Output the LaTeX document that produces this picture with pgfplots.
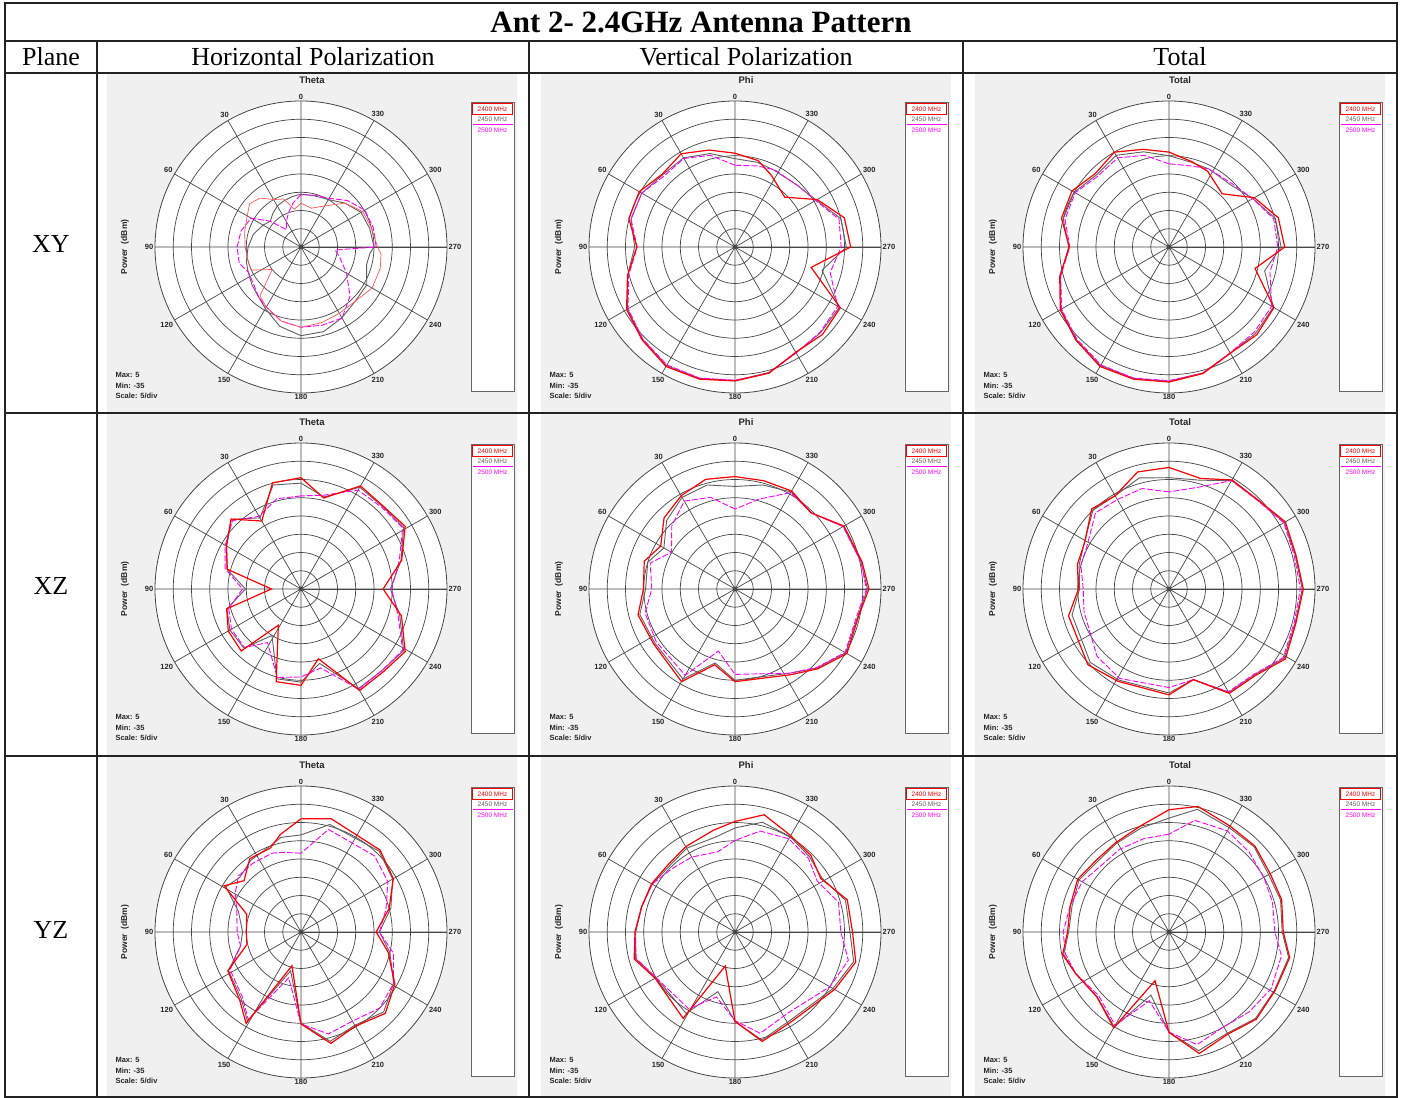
\documentclass[border=0pt]{standalone}
\usepackage{fontspec}
\setmainfont{Liberation Serif}
\setsansfont{Liberation Sans}
\usepackage{pgfplots}
\pgfplotsset{compat=1.18}
\usepackage{pgfplotstable}
\usepgfplotslibrary{polar}

\definecolor{gridc}{RGB}{70,70,70}
\definecolor{panelgray}{RGB}{240,240,240}
\definecolor{tr}{RGB}{255,0,0}
\definecolor{tg}{RGB}{95,95,95}
\definecolor{tm}{RGB}{255,0,255}
\definecolor{framec}{RGB}{35,35,35}

\newcommand\legfont{\sffamily\fontsize{6.5}{7}\selectfont}
\newcommand\smallbold{\sffamily\bfseries\fontsize{7.5}{9}\selectfont}

% angle a (deg, 0 at top, counter-clockwise), power in dBm for 2400 (r), 2450 (g), 2500 (m) MHz
\pgfplotstableread{
a r g m
0 -23 -20.5 -20.7
10 -24.5 -21 -22.7
20 -21 -21.5 -25
30 -20 -22 -27
40 -17.5 -23 -28.8
50 -16.6 -24 -24
60 -18 -23 -19.2
75 -19 -21.5 -18
90 -19.7 -20.5 -17.5
105 -20 -19.5 -17.5
115 -20 -19 -19
128 -25 -18 -18.5
140 -17.5 -17 -17
150 -16 -15.5 -16
165 -14 -12.5 -14
180 -13 -10.7 -13
195 -13.5 -11 -12.8
210 -14 -12.6 -12.5
225 -14 -14 -16
240 -12.5 -14.2 -20.6
255 -12.5 -16.4 -24
265 -13 -16 -25.6
270 -14 -15 -14.4
285 -15 -15.5 -14.5
300 -15.5 -16 -14.8
315 -18 -18 -17
330 -22 -20 -19.6
345 -24 -20.5 -20.3
360 -23 -20.5 -20.7
}\tXYh

\pgfplotstableread{
a r g m
0 -9.3 -10.8 -12.6
15 -7.5 -8.5 -9
30 -5.5 -6.8 -7
45 -6.8 -7 -7.5
60 -4.7 -5.5 -5.5
75 -4.9 -5.5 -5.5
90 -8.1 -7.5 -8.2
105 -4.5 -4.5 -4.8
120 -0.7 -1 -1.2
135 1 0.8 0.7
150 2.8 2.5 2.3
165 2.5 2.3 2.2
180 1.7 1.6 1.5
195 0.8 0.6 0.8
210 -1.7 -1.5 -1.5
225 -1.1 -1.8 -2
240 -1.7 -2 -2.5
255 -13.4 -10.3 -8
270 -3.3 -4.5 -5.9
285 -4 -5 -5.5
300 -9 -9.3 -9.5
315 -15.7 -11 -11
333 -13 -11.4 -11.2
345 -10.5 -11 -12
360 -9.3 -10.8 -12.6
}\tXYv

\pgfplotstableread{
a r g m
0 -9 -10 -12.2
15 -7.3 -8 -9
30 -5 -6 -6.8
45 -6.5 -7 -7.5
60 -4.3 -5 -5.3
75 -4.5 -5 -5.5
90 -7.7 -7.5 -7.8
105 -4 -4.2 -4.3
120 -0.6 -0.8 -1
135 1.1 0.9 0.7
150 2.8 2.5 2.3
165 2.5 2.3 2.2
180 2 1.8 1.6
195 0.9 0.7 0.8
210 -1.4 -1.4 -1.5
225 -1 -1.5 -2
240 -1.8 -2 -2.5
256 -10.7 -8 -6.5
270 -3.3 -4.3 -5.2
285 -4 -4.8 -5.3
300 -8 -8.5 -8.5
315 -14.4 -11 -10.5
333 -11.7 -11 -11
345 -10.8 -11 -12
360 -9 -10 -12.2
}\tXYt

\pgfplotstableread{
a r g m
0 -4.5 -6 -9.5
15 -4.9 -5.5 -9.4
30 -13.5 -12.5 -12
45 -7.9 -8 -8.5
60 -11.4 -11.5 -11
75 -14.1 -14 -13.5
90 -26.9 -19.8 -19
105 -13.9 -14 -14.5
120 -12 -12.5 -13
136 -11.4 -12.5 -12.7
148 -23.3 -20 -17.7
165 -8.7 -9.5 -9.9
180 -8.6 -9.5 -10.9
194 -15.3 -14 -12.7
210 -2.9 -3.5 -3.3
225 -3 -3.5 -3.5
239 -1.7 -2.2 -2.5
255 -6.5 -7 -7.5
270 -12.5 -10.5 -10.2
286 -6.3 -6.5 -7
301 -1.7 -2.2 -2.5
315 -3 -3.2 -3.5
330 -2.4 -2.8 -3.7
346 -9.3 -9 -8.5
360 -4.5 -6 -9.5
}\tXZh

\pgfplotstableread{
a r g m
0 -4.2 -6.9 -13.1
15 -3.9 -5.5 -9
30 -5.5 -6 -7.2
45 -7.5 -8.5 -10.5
60 -11.5 -12.5 -14.9
73 -9 -10 -10.7
90 -9.9 -10.5 -12.2
105 -7.5 -8 -9.5
124 -8.1 -8.5 -9
150 -5.7 -6.5 -7.7
165 -13.5 -14 -17.4
180 -9.6 -10 -11.6
213 -7 -7.5 -7.5
226 -3.5 -3.8 -4
240 0.4 0 -0.2
258 -0.3 -0.5 -0.8
270 1.7 1.3 1
282 0.6 0.3 0.3
300 -0.5 -0.7 -0.8
315 -5.5 -5.5 -5.5
330 -4 -4.3 -4.5
345 -4.3 -5.5 -9.5
360 -4.2 -6.9 -13.1
}\tXZv

\pgfplotstableread{
a r g m
0 -1.7 -4.5 -8.4
15 -1.8 -3.5 -6.5
30 -5.5 -5.5 -6.7
44 -4.5 -5 -6
61 -8.6 -8.5 -9.5
75 -9 -9.5 -10
90 -10.2 -10.5 -11.5
105 -6.5 -7.5 -10.9
133 -4.6 -5.5 -8
151 -6.1 -6.5 -7
180 -6 -6.5 -8
195 -9.3 -9.3 -9.3
210 -2 -2.3 -2.5
225 -1.5 -1.8 -2
239 2.2 1.8 1.5
255 1 0.8 0.5
270 1.8 1.5 1
285 1 0.8 0.5
300 1.8 1.5 1.3
315 -0.5 -0.6 -0.7
330 -0.5 -0.7 -0.7
344 -3.5 -4 -6
360 -1.7 -4.5 -8.4
}\tXZt

\pgfplotstableread{
a r g m
0 -4 -8.4 -13.4
12 -7.7 -8.5 -12.7
20 -10.5 -10 -12
35 -10.5 -11 -12
48 -14 -12.5 -12
59 -10.4 -11 -14
72 -19.4 -17 -16.5
90 -20 -19 -17.5
103 -19.8 -18 -18
118 -12.3 -12.5 -13
138 -9.9 -10.5 -11
149 -5.8 -6.5 -7
165 -25.4 -24 -22
180 -9.8 -10 -9.8
195 -3.4 -4 -6.1
210 -5.2 -5.5 -6.8
226 -2.9 -3.5 -5
241 -5.6 -6 -6
257 -10.5 -10 -9
270 -14.4 -13.5 -13.5
285 -10 -9.5 -10.9
300 -5.8 -6 -7.5
316 -3.8 -4.2 -6
345 -2.9 -4.5 -5.9
360 -4 -8.4 -13.4
}\tYZh

\pgfplotstableread{
a r g m
0 -4.7 -6.5 -9.9
12 -6.5 -8.5 -12.5
30 -8 -8.5 -11.3
45 -9 -9.5 -10.5
60 -8.6 -8.8 -8.8
75 -8.5 -8.5 -8.5
90 -7.6 -7.8 -7.6
105 -6.4 -6.8 -7
120 -9.7 -10 -10
149 -7.4 -9 -10.4
164 -25.3 -18 -16.5
180 -10.5 -10.5 -10.7
194 -4.1 -4.5 -6.4
213 -6 -6.5 -8.5
240 -3.5 -4 -5
256 -0.9 -1.5 -3
270 -2.8 -3.5 -6
286 -3 -3.5 -5.5
302 -7.3 -7 -8.5
315 -5.5 -6 -6.5
330 -4.5 -4.8 -5.5
346 -1.9 -4 -6.5
360 -4.7 -6.5 -9.9
}\tYZv

\pgfplotstableread{
a r g m
0 -1.5 -3.8 -8.2
15 -4.9 -5.5 -8.5
31 -6.5 -6.8 -8.6
45 -7 -7.5 -9
60 -6.1 -6.5 -7.5
75 -7 -7.5 -7
90 -7.2 -7.5 -6
102 -5.2 -5.5 -6
114 -7 -7 -7
132 -8.4 -8.5 -9
150 -4.7 -5 -5.5
164 -21.1 -17 -15.4
180 -7.5 -7.5 -7.6
194 -0.7 -1.5 -3.2
210 -2.7 -3 -5
225 -1.2 -1.5 -4
241 -1.8 -2 -3
258 -1.2 -1.5 -3.5
270 -3.7 -4 -6
286 -2.9 -3.2 -5.5
300 -3 -3.5 -5
315 -1.7 -2 -4
330 -1.5 -2 -3
347 0.3 -0.5 -3.6
360 -1.5 -3.8 -8.2
}\tYZt

\pgfplotsset{
  antpolar/.style={
    scale only axis, width=292pt, height=292pt, anchor=center,
    xmin=0, xmax=360, ymin=0, ymax=40,
    xtick={0,30,...,330},
    xticklabels={270,300,330,0,30,60,90,120,150,180,210,240},
    ytick={5,10,...,35},
    yticklabel style={opacity=0},
    major tick length=0pt,
    grid=major,
    major grid style={draw=gridc, line width=0.7pt},
    axis line style={draw=gridc, line width=0.8pt},
    xticklabel style={font=\smallbold, text=black!85, inner sep=1.5pt},
  },
  redthick/.style={draw=tr, line width=1.2pt},
  redthin/.style={draw=tr!65, line width=0.7pt},
  grayline/.style={draw=tg, line width=0.9pt},
  magline/.style={draw=tm, line width=0.9pt, dash pattern=on 6pt off 2pt},
}

% #1 centre x, #2 centre y (measured from the top), #3 title, #4 table,
% #5 cell top, #6 cell bottom, #7 style of the 2400 MHz trace
\newcommand{\antpanel}[7]{%
  \fill[panelgray] ({#1-194},{1097-#5-1}) rectangle ({#1+216},{1097-#6+1});
  \fill[white] ({#1},{1097-#2}) circle[radius=146pt];
  \begin{polaraxis}[antpolar, at={({#1*1pt},{(1097-#2)*1pt})}]
    \addplot[grayline] table[x expr=\thisrow{a}+90, y expr=\thisrow{g}+35]{#4};
    \addplot[magline] table[x expr=\thisrow{a}+90, y expr=\thisrow{m}+35]{#4};
    \addplot[#7] table[x expr=\thisrow{a}+90, y expr=\thisrow{r}+35]{#4};
  \end{polaraxis}
  \fill[gridc] ({#1},{1097-#2}) circle[radius=1.6pt];
  \node[font=\sffamily\bfseries\fontsize{9.5}{11}\selectfont, text=black!85] at ({#1+11},{1097-#2+167}) {#3};
  \node[rotate=90, font=\sffamily\bfseries\fontsize{8.5}{10}\selectfont, text=black!85] at ({#1-176},{1097-#2}) {Power~~(dBm)};
  \node[anchor=west, font=\smallbold, text=black!85] at ({#1-189},{1097-#2-128}) {Max: 5};
  \node[anchor=west, font=\smallbold, text=black!85] at ({#1-189},{1097-#2-138.5}) {Min: -35};
  \node[anchor=west, font=\smallbold, text=black!85] at ({#1-189},{1097-#2-149}) {Scale: 5/div};
  \draw[black!60, fill=white, line width=0.7pt] ({#1+170},{1097-#2+145}) rectangle ({#1+213},{1097-#2-144});
  \draw[tr, line width=0.8pt] ({#1+171.5},{1097-#2+143.5}) rectangle ({#1+211.5},{1097-#2+133});
  \node[text=tr, font=\legfont] at ({#1+191.5},{1097-#2+138}) {2400 MHz};
  \node[text=tg, font=\legfont] at ({#1+191.5},{1097-#2+127.5}) {2450 MHz};
  \draw[tm, line width=1pt] ({#1+171.5},{1097-#2+122.5}) -- ({#1+211.5},{1097-#2+122.5});
  \node[text=tm, font=\legfont] at ({#1+191.5},{1097-#2+117}) {2500 MHz};
}

\begin{document}
\begin{tikzpicture}[x=1pt, y=1pt]
  \useasboundingbox (0,0) rectangle (1402,1097);
  \fill[white] (0,0) rectangle (1402,1097);

  % polar panels: rows XY, XZ, YZ; columns Theta, Phi, Total
  \antpanel{301}{247}{Theta}{\tXYh}{73}{413}{redthin}
  \antpanel{735}{247}{Phi}{\tXYv}{73}{413}{redthick}
  \antpanel{1169}{247}{Total}{\tXYt}{73}{413}{redthick}
  \antpanel{301}{589}{Theta}{\tXZh}{413}{756}{redthick}
  \antpanel{735}{589}{Phi}{\tXZv}{413}{756}{redthick}
  \antpanel{1169}{589}{Total}{\tXZt}{413}{756}{redthick}
  \antpanel{301}{932}{Theta}{\tYZh}{756}{1097}{redthick}
  \antpanel{735}{932}{Phi}{\tYZv}{756}{1097}{redthick}
  \antpanel{1169}{932}{Total}{\tYZt}{756}{1097}{redthick}

  % table frame
  \begin{scope}[draw=framec, line width=1.3pt]
    \draw (5,{1097-3}) rectangle (1397,0);
    \draw (5,{1097-41}) -- (1397,{1097-41});
    \draw (5,{1097-73}) -- (1397,{1097-73});
    \draw (5,{1097-413}) -- (1397,{1097-413});
    \draw (5,{1097-756}) -- (1397,{1097-756});
    \draw (97,{1097-41}) -- (97,0);
    \draw (529,{1097-41}) -- (529,0);
    \draw (963,{1097-41}) -- (963,0);
  \end{scope}

  % title and headings
  \node[font=\bfseries\fontsize{31}{36}\selectfont] at (701,{1097-22}) {Ant 2- 2.4GHz Antenna Pattern};
  \node[font=\fontsize{26}{30}\selectfont] at (51,{1097-57}) {Plane};
  \node[font=\fontsize{26}{30}\selectfont] at (313,{1097-57}) {Horizontal Polarization};
  \node[font=\fontsize{26}{30}\selectfont] at (746,{1097-57}) {Vertical Polarization};
  \node[font=\fontsize{26}{30}\selectfont] at (1180,{1097-57}) {Total};
  \node[font=\fontsize{26}{30}\selectfont] at (51,{1097-244}) {XY};
  \node[font=\fontsize{26}{30}\selectfont] at (51,{1097-586}) {XZ};
  \node[font=\fontsize{26}{30}\selectfont] at (51,{1097-930}) {YZ};
\end{tikzpicture}
\end{document}
